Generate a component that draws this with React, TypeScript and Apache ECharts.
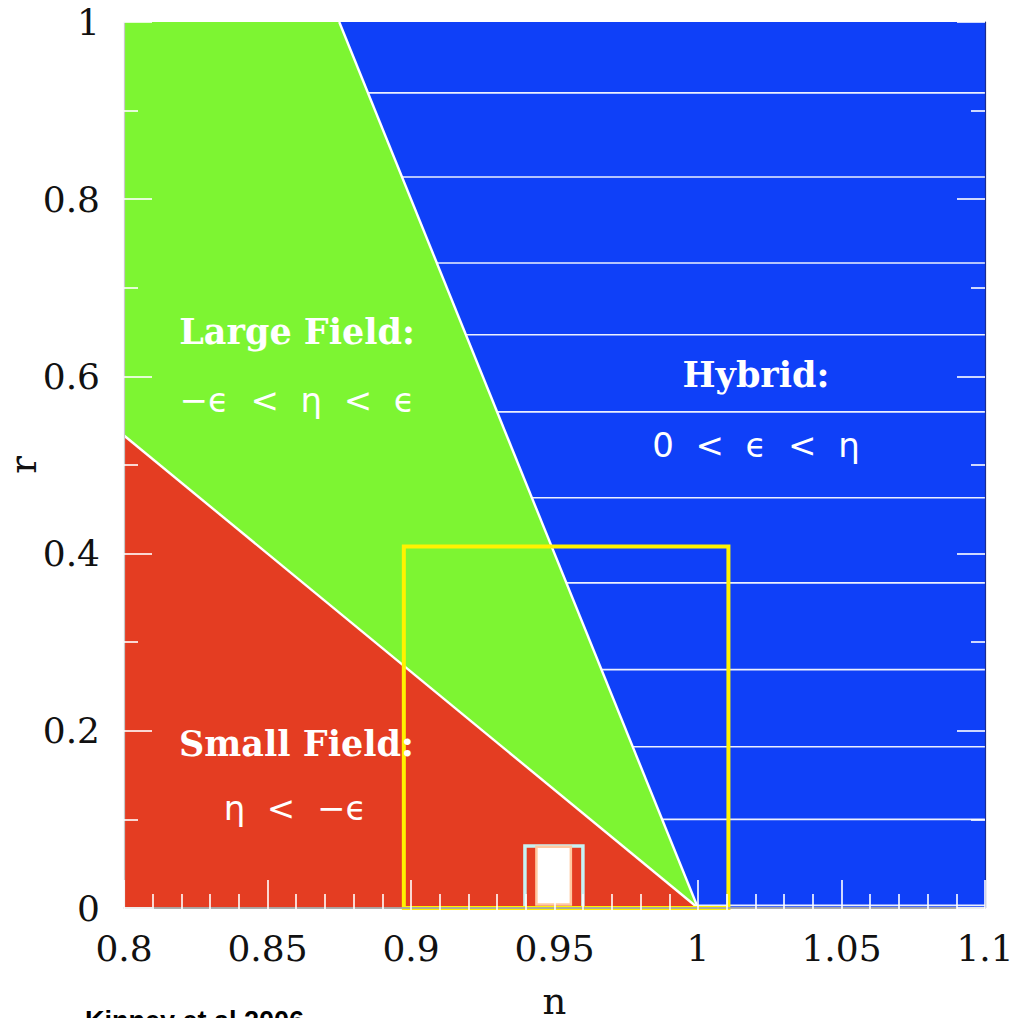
import React, { useEffect, useRef } from "react";
import * as echarts from "echarts";

// Axis ranges and tick labels
const nRange = [0.8, 1.1];
const rRange = [0, 1];
const xTickLabels = ["0.8", "0.85", "0.9", "0.95", "1", "1.05", "1.1"];
const yTickLabels = ["0", "0.2", "0.4", "0.6", "0.8", "1"];

// Model classes in the (n, r) plane
// small/large boundary: eta = -epsilon  ->  r = (8/3)(1 - n)
// large/hybrid boundary: eta = epsilon  ->  r = 8(1 - n)
const smallFieldRegion = [[0.8, 0], [0.8, 0.5333], [1.0, 0]];
const largeFieldRegion = [[0.8, 0.5333], [0.8, 1], [0.875, 1], [1.0, 0]];
const hybridRegion = [[0.875, 1], [1.1, 1], [1.1, 0], [1.0, 0]];
const smallLargeEdge = [[0.8, 0.5333], [1.0, 0]];
const largeHybridEdge = [[0.875, 1], [1.0, 0]];

// Horizontal hatch lines across the hybrid region (r levels)
const hatchLevels = [0.92, 0.825, 0.728, 0.647, 0.56, 0.463, 0.367, 0.269, 0.182, 0.1, 0.003];

// Highlight boxes: [[nLow, rLow], [nHigh, rHigh]]
const outerBox = [[0.8975, 0], [1.0106, 0.408]];
const innerBox = [[0.9397, 0], [0.9599, 0.07]];
const coreBox = [[0.9437, 0.004], [0.9557, 0.069]];

// Region annotations placed in data coordinates
const regionLabels = [
  { text: "Large Field:", n: 0.8603, r: 0.651, kind: "title" },
  { text: "\u2212\u03F5  <  \u03B7  <  \u03F5", n: 0.8603, r: 0.573, kind: "math" },
  { text: "Hybrid:", n: 1.0202, r: 0.6016, kind: "title" },
  { text: "0  <  \u03F5  <  \u03B7", n: 1.0202, r: 0.5226, kind: "math" },
  { text: "Small Field:", n: 0.8601, r: 0.186, kind: "title" },
  { text: "\u03B7  <  \u2212\u03F5", n: 0.8596, r: 0.113, kind: "math" },
];

const GREEN = "#7df532";
const BLUE = "#0f40f8";
const RED = "#e43d22";
const YELLOW = "#fff200";
const CYAN = "#c6f3f4";
const PEACH = "#ffc9a2";

const serif = "'DejaVu Serif', serif";
const sans = "'DejaVu Sans', sans-serif";

function tickFmt(labels: string[]) {
  return (v: number) => {
    const key = Math.round(v * 1000) / 1000;
    return labels.find((l) => Number(l) === key) ?? String(key);
  };
}

export default function App() {
  const ref = useRef<HTMLDivElement>(null);

  useEffect(() => {
    if (!ref.current) return;
    const chart = echarts.init(ref.current, undefined, { renderer: "svg" });

    const tickCommon = {
      axisTick: { show: true, inside: true, length: 28, lineStyle: { color: "#ffffff", width: 1.6 } },
      splitLine: { show: false },
      z: 5,
    };

    const renderScene = (_params: any, api: any) => {
      const c = (p: number[]) => api.coord(p);
      const children: any[] = [];
      const regions = [
        { pts: hybridRegion, color: BLUE },
        { pts: largeFieldRegion, color: GREEN },
        { pts: smallFieldRegion, color: RED },
      ];
      regions.forEach((reg) =>
        children.push({ type: "polygon", shape: { points: reg.pts.map(c) }, style: { fill: reg.color } })
      );
      hatchLevels.forEach((r) => {
        const a = c([1 - r / 8, r]);
        const b = c([nRange[1], r]);
        children.push({
          type: "line",
          shape: { x1: a[0], y1: a[1], x2: b[0], y2: b[1] },
          style: { stroke: "rgba(255,255,255,0.92)", lineWidth: 1.6 },
        });
      });
      [smallLargeEdge, largeHybridEdge].forEach((edge) =>
        children.push({
          type: "polyline",
          shape: { points: edge.map(c) },
          style: { stroke: "#ffffff", lineWidth: 2.4, fill: "none" },
        })
      );
      const rectOf = (box: number[][], style: any) => {
        const tl = c([box[0][0], box[1][1]]);
        const br = c([box[1][0], box[0][1]]);
        return { type: "rect", shape: { x: tl[0], y: tl[1], width: br[0] - tl[0], height: br[1] - tl[1] }, style };
      };
      children.push(rectOf(innerBox, { fill: "none", stroke: CYAN, lineWidth: 3.5 }));
      children.push(rectOf(coreBox, { fill: "#ffffff", stroke: PEACH, lineWidth: 2.5 }));
      children.push(rectOf(outerBox, { fill: "none", stroke: YELLOW, lineWidth: 4 }));
      regionLabels.forEach((lab) => {
        const p = c([lab.n, lab.r]);
        const isTitle = lab.kind === "title";
        children.push({
          type: "text",
          x: p[0],
          y: p[1],
          style: {
            text: lab.text,
            fill: "#ffffff",
            fontFamily: isTitle ? serif : sans,
            fontWeight: isTitle ? "bold" : "normal",
            fontSize: isTitle ? 35 : 34,
            align: "center",
            verticalAlign: "middle",
          },
        });
      });
      return { type: "group", children };
    };

    chart.setOption({
      animation: false,
      backgroundColor: "#ffffff",
      grid: { left: 124, right: 31, top: 22, bottom: 110, outerBoundsMode: "none" },
      xAxis: [
        {
          type: "value",
          position: "bottom",
          min: nRange[0],
          max: nRange[1],
          interval: 0.05,
          name: "n",
          nameLocation: "middle",
          nameGap: 93,
          nameMoveOverlap: false,
          nameTextStyle: { fontFamily: serif, fontSize: 37, lineHeight: 20, color: "#111", verticalAlign: "middle" },
          axisLine: { show: true, lineStyle: { color: "#2a2a2a", width: 1.5 } },
          minorTick: { show: true, splitNumber: 5, length: 14, lineStyle: { color: "#ffffff", width: 1.6 } },
          axisLabel: { margin: 22, fontFamily: serif, fontSize: 36, color: "#111", formatter: tickFmt(xTickLabels) },
          ...tickCommon,
        },
        {
          type: "value",
          position: "top",
          min: nRange[0],
          max: nRange[1],
          interval: 0.05,
          axisLine: { show: true, lineStyle: { color: "#c8c8c8", width: 1.5 } },
          minorTick: { show: true, splitNumber: 5, length: 14, lineStyle: { color: "#ffffff", width: 1.6 } },
          axisLabel: { show: false },
          ...tickCommon,
        },
      ],
      yAxis: [
        {
          type: "value",
          position: "left",
          min: rRange[0],
          max: rRange[1],
          interval: 0.2,
          name: "r",
          nameLocation: "middle",
          nameGap: 101,
          nameMoveOverlap: false,
          nameTextStyle: { fontFamily: serif, fontSize: 37, lineHeight: 24, color: "#111", verticalAlign: "middle" },
          axisLine: { show: true, lineStyle: { color: "#c8c8c8", width: 1.2 } },
          minorTick: { show: true, splitNumber: 2, length: 14, lineStyle: { color: "#ffffff", width: 1.6 } },
          axisLabel: { margin: 24, fontFamily: serif, fontSize: 36, color: "#111", formatter: tickFmt(yTickLabels) },
          ...tickCommon,
        },
        {
          type: "value",
          position: "right",
          min: rRange[0],
          max: rRange[1],
          interval: 0.2,
          axisLine: { show: true, lineStyle: { color: "#1a2c90", width: 1.2 } },
          minorTick: { show: true, splitNumber: 2, length: 14, lineStyle: { color: "#ffffff", width: 1.6 } },
          axisLabel: { show: false },
          ...tickCommon,
        },
      ],
      series: [
        {
          type: "custom",
          coordinateSystem: "cartesian2d",
          xAxisIndex: 0,
          yAxisIndex: 0,
          clip: false,
          z: 1,
          silent: true,
          data: [[nRange[0], rRange[0]]],
          renderItem: renderScene,
        },
      ],
      graphic: [
        {
          type: "text",
          left: 85,
          top: 1007,
          style: {
            text: "Kinney et al 2006",
            fill: "#000000",
            fontFamily: "'Liberation Sans', Arial, sans-serif",
            fontWeight: "bold",
            fontSize: 27,
          },
        },
      ],
    });

    return () => chart.dispose();
  }, []);

  return (
    <div style={{ position: "absolute", left: 0, top: 0, width: 1016, height: 1018, overflow: "hidden" }}>
      <div ref={ref} style={{ width: 1016, height: 1018 }} />
    </div>
  );
}
